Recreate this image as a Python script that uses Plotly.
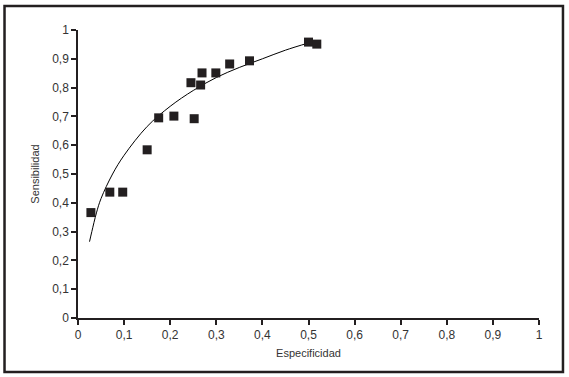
import plotly.graph_objects as go

# Observed data points (Especificidad, Sensibilidad)
esp = [0.028, 0.069, 0.097, 0.150, 0.175, 0.208, 0.252, 0.245, 0.266, 0.269, 0.299, 0.329, 0.372, 0.500, 0.518]
sens = [0.366, 0.437, 0.437, 0.584, 0.695, 0.701, 0.692, 0.817, 0.809, 0.851, 0.851, 0.882, 0.893, 0.958, 0.951]

# Trend curve points
curve_x = [0.025, 0.03, 0.04, 0.05, 0.075, 0.1, 0.15, 0.2, 0.25, 0.3, 0.35, 0.4, 0.45, 0.5]
curve_y = [0.265, 0.30, 0.365, 0.415, 0.50, 0.565, 0.665, 0.735, 0.79, 0.835, 0.87, 0.90, 0.93, 0.955]

tick_vals = [0, 0.1, 0.2, 0.3, 0.4, 0.5, 0.6, 0.7, 0.8, 0.9, 1]
tick_text = ["0", "0,1", "0,2", "0,3", "0,4", "0,5", "0,6", "0,7", "0,8", "0,9", "1"]

fig = go.Figure()
fig.add_trace(go.Scatter(x=curve_x, y=curve_y, mode="lines",
                         line=dict(color="black", width=1, shape="spline"),
                         hoverinfo="skip"))
fig.add_trace(go.Scatter(x=esp, y=sens, mode="markers",
                         marker=dict(symbol="square", size=9, color="#231f20")))

font = dict(family="Liberation Sans, Arial, sans-serif", size=12, color="#333333")

fig.update_layout(
    width=569, height=377,
    margin=dict(l=78, r=30, t=30, b=59),
    paper_bgcolor="white", plot_bgcolor="white",
    showlegend=False,
    font=font,
    xaxis=dict(range=[0, 1], tickvals=tick_vals, ticktext=tick_text,
               showgrid=False, zeroline=False, showline=True, linecolor="#231f20", linewidth=1.5,
               ticks="outside", ticklen=5, tickcolor="#231f20", tickwidth=1.5,
               title=dict(text="Especificidad", font=dict(size=11), standoff=8)),
    yaxis=dict(range=[0, 1], tickvals=tick_vals, ticktext=tick_text,
               showgrid=False, zeroline=False, showline=True, linecolor="#231f20", linewidth=1.5,
               ticks="outside", ticklen=5, tickcolor="#231f20", tickwidth=1.5,
               title=dict(text="Sensibilidad", font=dict(size=11), standoff=10)),
    shapes=[dict(type="rect", xref="paper", yref="paper",
                 x0=-0.1594, x1=1.052, y0=-0.1875, y1=1.0833,
                 line=dict(color="#231f20", width=2.5))],
)

fig.write_html("out.html", config={"displayModeBar": False},
               post_script="document.body.style.margin='0';document.body.style.overflow='hidden';")
